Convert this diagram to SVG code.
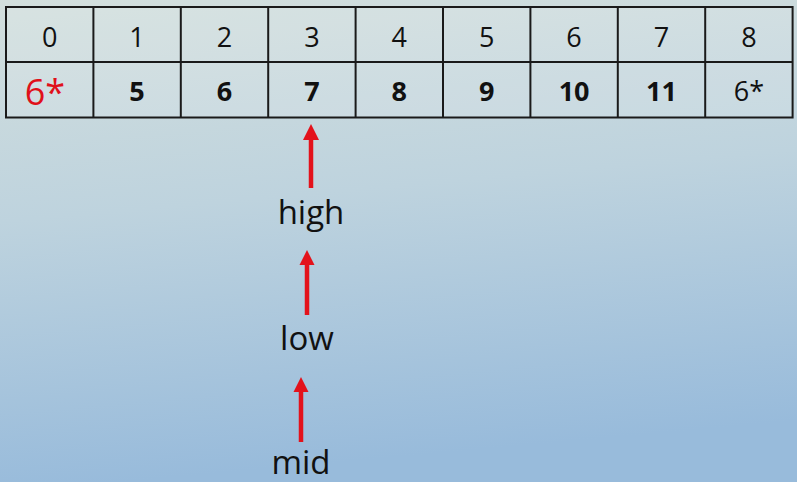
<svg xmlns="http://www.w3.org/2000/svg" width="797" height="482" viewBox="0 0 797 482">
<defs>
<linearGradient id="bg" x1="0" y1="0" x2="0.15" y2="1">
<stop offset="0" stop-color="#d3dfdd"/>
<stop offset="0.45" stop-color="#bed3de"/>
<stop offset="1" stop-color="#98bbdb"/>
</linearGradient>
<style>
.cell{fill:#ffffff;fill-opacity:0.12;stroke:#1a1a1a;stroke-width:2}
.hd{font-family:"Open Sans","Noto Sans",sans-serif;font-size:27px;fill:#111;text-anchor:middle}
.val{font-family:"Open Sans","Noto Sans",sans-serif;font-size:27px;font-weight:bold;fill:#111;text-anchor:middle}
.lbl{font-family:"Open Sans","Noto Sans",sans-serif;font-size:33px;fill:#111;text-anchor:middle}
.shaft{stroke:#e3121b;stroke-width:4.5;fill:none}
.head{fill:#e3121b}
</style>
</defs>
<rect x="0" y="0" width="797" height="482" fill="url(#bg)"/>
<g id="table">
<rect class="cell" x="6" y="7" width="786.6" height="110.5"/>
<line x1="6" y1="62" x2="792.6" y2="62" stroke="#1a1a1a" stroke-width="2"/>
<g stroke="#1a1a1a" stroke-width="2">
<line x1="93.4" y1="7" x2="93.4" y2="117.5"/>
<line x1="180.8" y1="7" x2="180.8" y2="117.5"/>
<line x1="268.2" y1="7" x2="268.2" y2="117.5"/>
<line x1="355.6" y1="7" x2="355.6" y2="117.5"/>
<line x1="443" y1="7" x2="443" y2="117.5"/>
<line x1="530.4" y1="7" x2="530.4" y2="117.5"/>
<line x1="617.8" y1="7" x2="617.8" y2="117.5"/>
<line x1="705.2" y1="7" x2="705.2" y2="117.5"/>
</g>
</g>
<g id="header">
<text class="hd" x="49.7" y="47">0</text>
<text class="hd" x="137.1" y="47">1</text>
<text class="hd" x="224.5" y="47">2</text>
<text class="hd" x="311.9" y="47">3</text>
<text class="hd" x="399.3" y="47">4</text>
<text class="hd" x="486.7" y="47">5</text>
<text class="hd" x="574.1" y="47">6</text>
<text class="hd" x="661.5" y="47">7</text>
<text class="hd" x="748.9" y="47">8</text>
</g>
<g id="values">
<text x="45" y="105" font-family="'Open Sans','Noto Sans',sans-serif" font-size="36" fill="#e0101a" text-anchor="middle">6*</text>
<text class="val" x="137.1" y="101">5</text>
<text class="val" x="224.5" y="101">6</text>
<text class="val" x="311.9" y="101">7</text>
<text class="val" x="399.3" y="101">8</text>
<text class="val" x="486.7" y="101">9</text>
<text class="val" x="574.1" y="101">10</text>
<text class="val" x="661.5" y="101">11</text>
<text class="hd" x="748.9" y="101">6*</text>
</g>
<g id="high">
<text class="lbl" x="311" y="224">high</text>
</g>
<g id="low">
<text class="lbl" x="307" y="350">low</text>
</g>
<g id="mid">
<text class="lbl" x="301" y="474">mid</text>
</g>
<g id="connectors">
<line class="shaft" x1="311" y1="188" x2="311" y2="138"/>
<polygon class="head" points="311,124 319,140 303,140"/>
<line class="shaft" x1="307" y1="315" x2="307" y2="263"/>
<polygon class="head" points="307,250 314.5,265 299.5,265"/>
<line class="shaft" x1="301" y1="442" x2="301" y2="390"/>
<polygon class="head" points="301,377 308.5,392 293.5,392"/>
</g>
</svg>
